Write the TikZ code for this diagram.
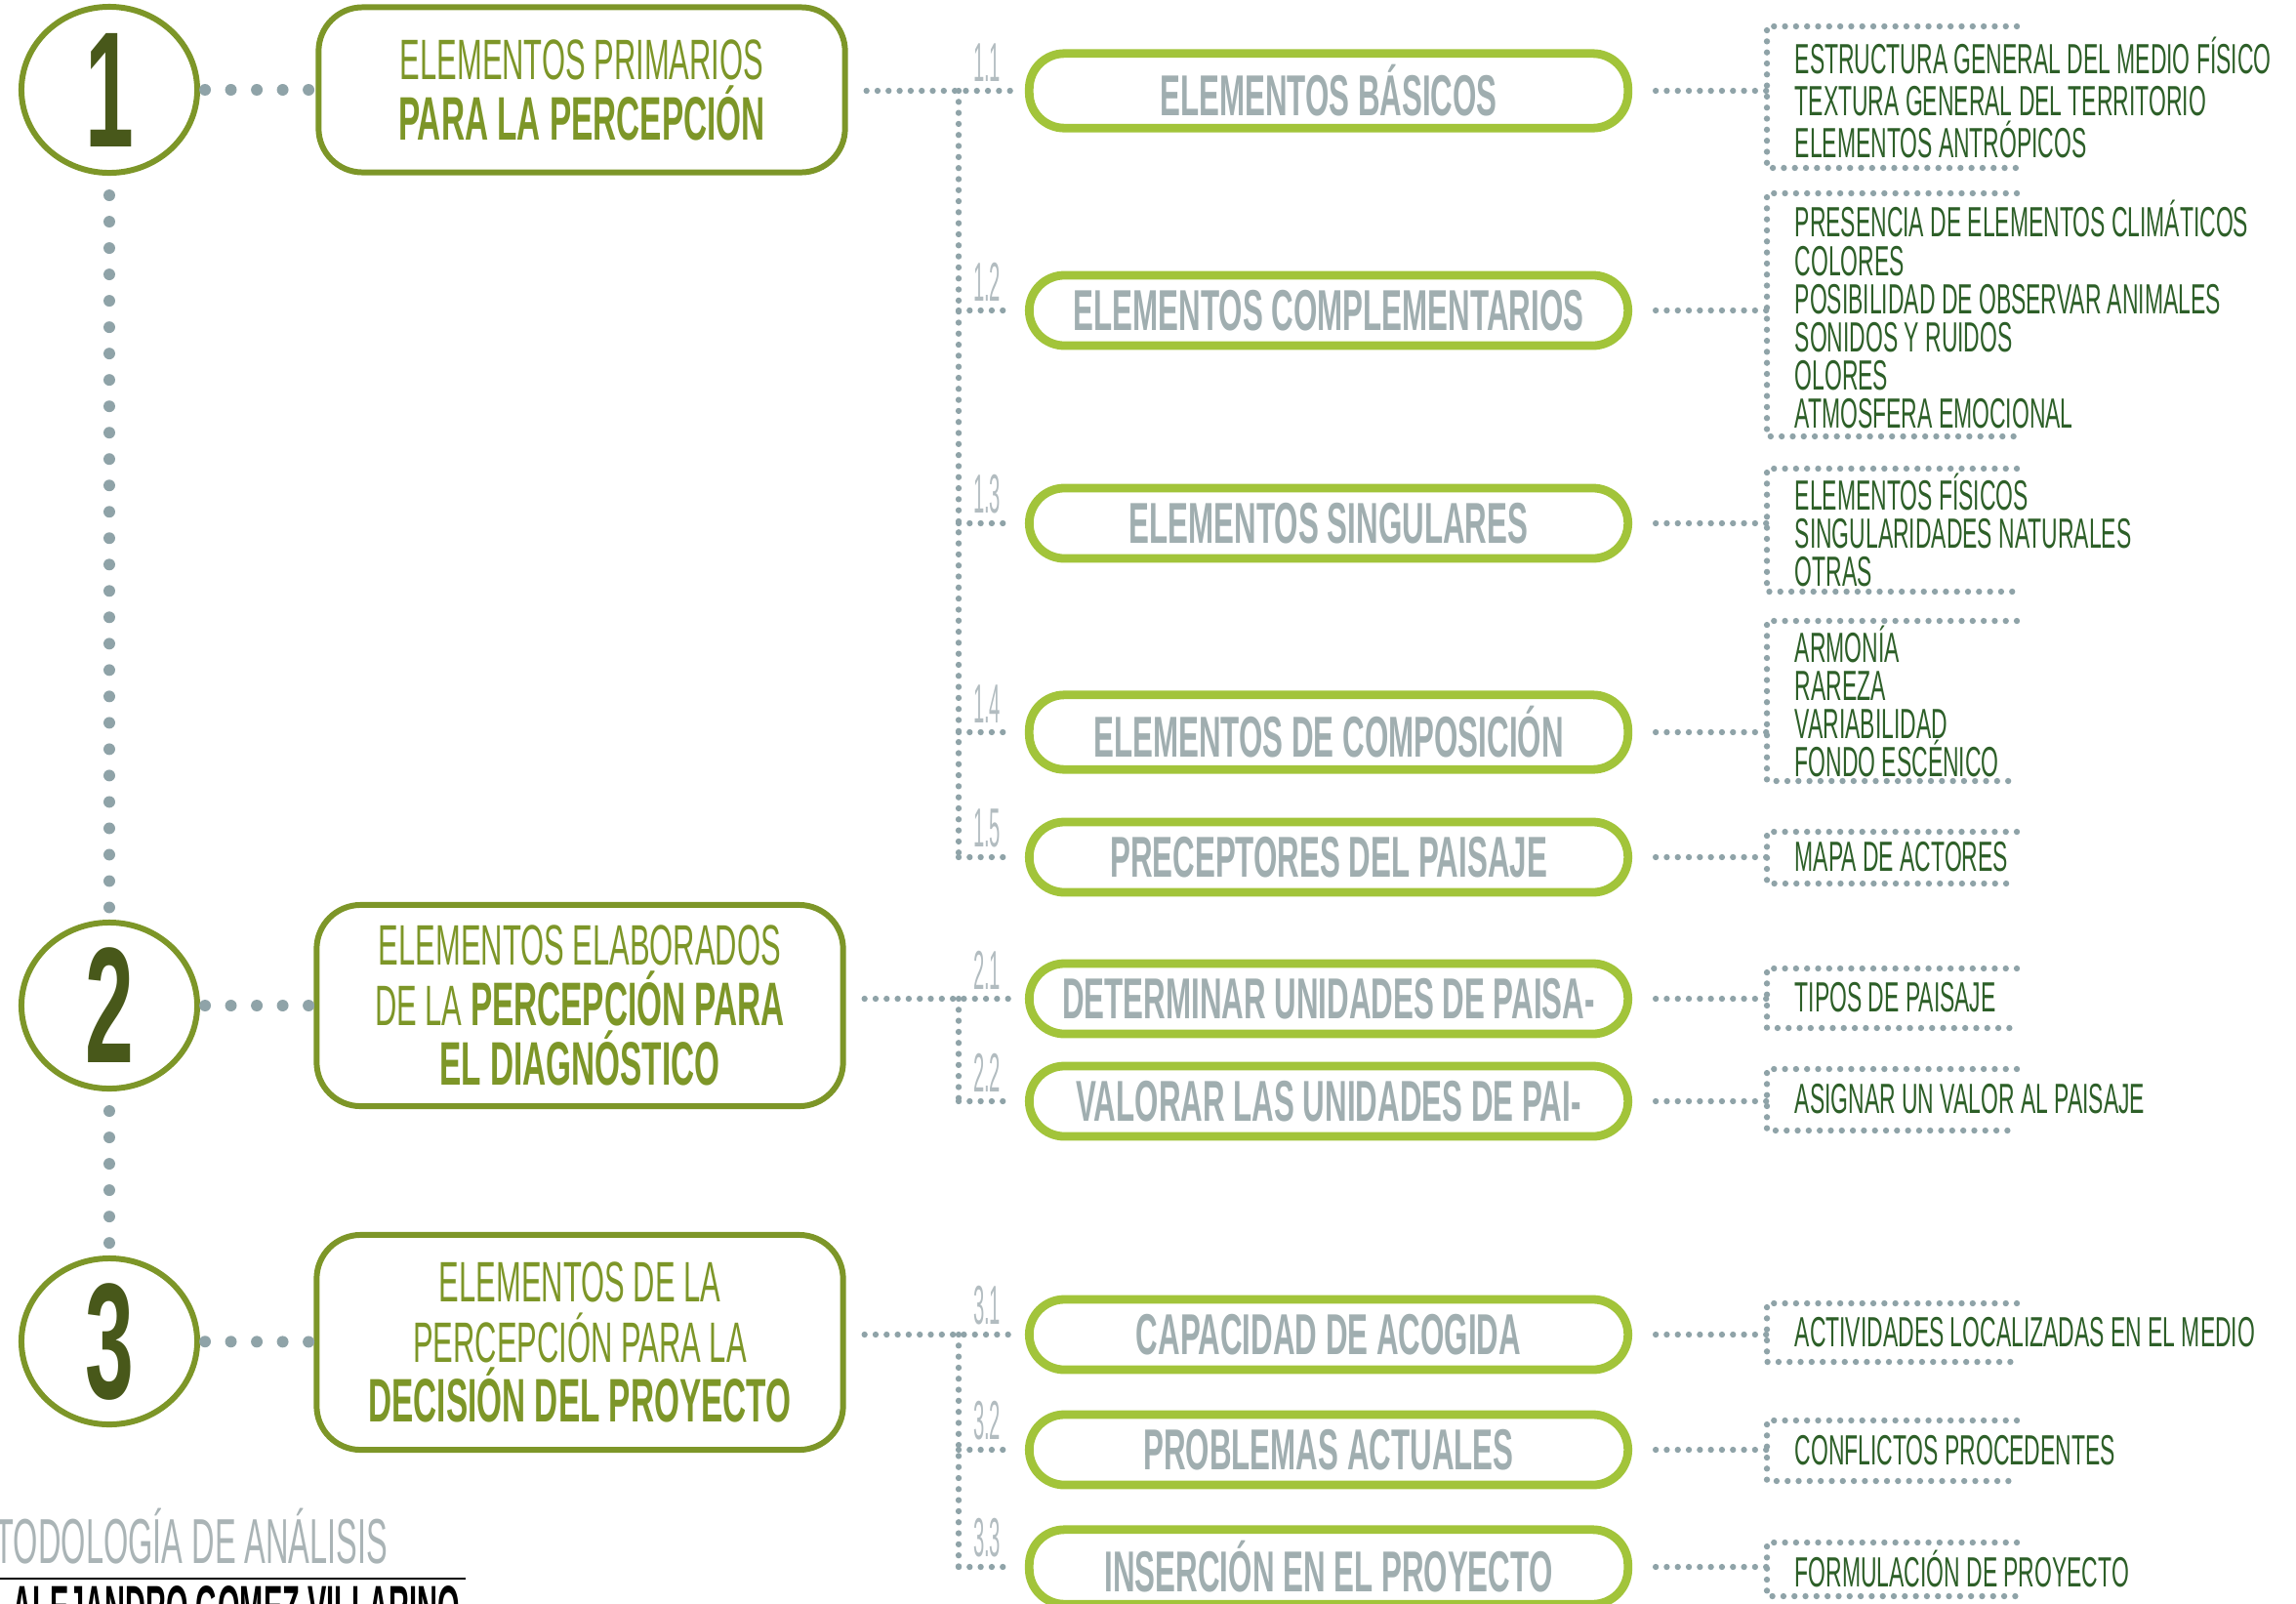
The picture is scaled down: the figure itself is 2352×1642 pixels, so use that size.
\documentclass[tikz,border=0pt]{standalone}
\usepackage{fontspec}
\usepackage{tikz}
\usetikzlibrary{shapes.geometric}

\newfontfamily\agency{Liberation Sans}[FakeStretch=0.53]
\newfontfamily\agencylist{Liberation Sans}[FakeStretch=0.5]
\newfontfamily\agencythin{Liberation Sans}[FakeStretch=0.36]
\newfontfamily\agencyname{Liberation Sans}[FakeStretch=0.46]
\newcommand\boldpart[1]{{\bfseries\fontsize{17.9}{17.6}\selectfont #1}}

\definecolor{boxgreen}{RGB}{125,150,40}
\definecolor{numgreen}{RGB}{72,88,26}
\definecolor{pillgreen}{RGB}{162,196,58}
\definecolor{pillgray}{RGB}{160,174,176}
\definecolor{dotgray}{RGB}{143,163,168}
\definecolor{listgreen}{RGB}{45,95,40}
\definecolor{labelgray}{RGB}{178,188,192}
\definecolor{footgray}{RGB}{170,180,182}

\begin{document}
\begin{tikzpicture}[x=0.01cm, y=-0.01cm,
    bigdots/.style={dotgray, line width=3.4pt, line cap=round, dash pattern=on 0pt off 0.27cm},
    smalldots/.style={dotgray, line width=1.8pt, line cap=round, dash pattern=on 0pt off 0.113cm},
    numcirc/.style={ellipse, draw=boxgreen, line width=1.7pt, minimum width=1.8cm, minimum height=1.7cm, inner sep=0pt, text=numgreen, font=\agency\bfseries\fontsize{48}{48}\selectfont},
    stagebox/.style={draw=boxgreen, line width=1.7pt, rounded corners=0.45cm, minimum width=5.39cm, align=center, text=boxgreen, font=\agency\fontsize{16.6}{17.6}\selectfont},
    pill/.style={draw=pillgreen, line width=2.5pt, rounded corners=0.36cm, minimum width=6.13cm, minimum height=0.72cm, text=pillgray, font=\agency\bfseries\fontsize{16.8}{18}\selectfont},
    sublabel/.style={anchor=south east, inner sep=0pt, text=labelgray, font=\agencythin\fontsize{16}{16}\selectfont},
    itemlist/.style={anchor=west, align=left, inner sep=0pt, text=listgreen, font=\agency\fontsize{12.3}{11.1}\selectfont}
]
\useasboundingbox (0,0) rectangle (2352,1642);

\node[numcirc] (n1) at (112,92) {1};
\node[numcirc] (n2) at (112,1030) {2};
\node[numcirc] (n3) at (112,1374) {3};

\node[stagebox, minimum height=1.69cm] (s1) at (596,92) {ELEMENTOS PRIMARIOS\\\boldpart{PARA LA PERCEPCIÓN}};
\node[stagebox, minimum height=2.06cm] (s2) at (594,1030) {ELEMENTOS ELABORADOS\\DE LA \boldpart{PERCEPCIÓN PARA}\\\boldpart{EL DIAGNÓSTICO}};
\node[stagebox, minimum height=2.2cm] (s3) at (594,1375) {ELEMENTOS DE LA\\PERCEPCIÓN PARA LA\\\boldpart{DECISIÓN DEL PROYECTO}};

\draw[bigdots, shorten <=0.2cm, shorten >=0.1cm] (n1) -- (n2);
\draw[bigdots, shorten <=0.2cm, shorten >=0.1cm] (n2) -- (n3);
\foreach \i in {1,2,3}
  \draw[bigdots, dash pattern=on 0pt off 0.265cm, shorten <=0.05cm, shorten >=0.04cm] (n\i) -- (s\i);

\foreach \id/\y/\txt in {11/93/ELEMENTOS BÁSICOS, 12/318/ELEMENTOS COMPLEMENTARIOS,
    13/536/ELEMENTOS SINGULARES, 14/750/ELEMENTOS DE COMPOSICIÓN,
    15/878/PRECEPTORES DEL PAISAJE, 21/1023/DETERMINAR UNIDADES DE PAISA-,
    22/1128/VALORAR LAS UNIDADES DE PAI-, 31/1367/CAPACIDAD DE ACOGIDA,
    32/1485/PROBLEMAS ACTUALES, 33/1605/INSERCIÓN EN EL PROYECTO}
  \node[pill] (p\id) at (1361,\y) {\txt};

\foreach \id/\lab in {11/1.1, 12/1.2, 13/1.3, 14/1.4, 15/1.5, 21/2.1, 22/2.2, 31/3.1, 32/3.2, 33/3.3}
  \node[sublabel] (l\id) at ([shift={(-24,-9)}]p\id.west) {\lab};

\coordinate (t1) at (982,93);
\coordinate (t2) at (982,1023);
\coordinate (t3) at (982,1367);
\foreach \i/\first/\last in {1/11/15, 2/21/22, 3/31/33} {
  \draw[smalldots, shorten <=0.19cm, shorten >=0.13cm] (s\i.east |- p\first) -- (p\first);
  \draw[smalldots] (t\i) -- (t\i |- p\last);
}
\foreach \id/\i in {12/1, 13/1, 14/1, 15/1, 22/2, 32/3, 33/3}
  \draw[smalldots, shorten >=0.2cm] (t\i |- p\id) -- (p\id.west);

\foreach \id/\top/\bot in {11/27/172, 12/198/447, 13/480/606, 14/636/800, 15/852/905,
    21/992/1053, 22/1095/1158, 31/1335/1395, 32/1455/1517, 33/1580/1635} {
  \coordinate (b\id) at (1810,\top);
  \draw[smalldots] (2066,\top) -- (b\id) -- (1810,\bot) -- (2066,\bot);
  \draw[smalldots, shorten <=0.24cm] (p\id) -- (p\id -| b\id);
}

\node[itemlist, font=\agency\fontsize{12.3}{12.2}\selectfont] (i11) at (1838,100) {ESTRUCTURA GENERAL DEL MEDIO FÍSICO\\TEXTURA GENERAL DEL TERRITORIO\\ELEMENTOS ANTRÓPICOS};
\node[itemlist] (i12) at (1838,322) {PRESENCIA DE ELEMENTOS CLIMÁTICOS\\COLORES\\POSIBILIDAD DE OBSERVAR ANIMALES\\SONIDOS Y RUIDOS\\OLORES\\ATMOSFERA EMOCIONAL};
\node[itemlist] (i13) at (1838,543) {ELEMENTOS FÍSICOS\\SINGULARIDADES NATURALES\\OTRAS};
\node[itemlist] (i14) at (1838,718) {ARMONÍA\\RAREZA\\VARIABILIDAD\\FONDO ESCÉNICO};
\node[itemlist] (i15) at (1838,878) {MAPA DE ACTORES};
\node[itemlist] (i21) at (1838,1022) {TIPOS DE PAISAJE};
\node[itemlist] (i22) at (1838,1126) {ASIGNAR UN VALOR AL PAISAJE};
\node[itemlist] (i31) at (1838,1365) {ACTIVIDADES LOCALIZADAS EN EL MEDIO};
\node[itemlist] (i32) at (1838,1486) {CONFLICTOS PROCEDENTES};
\node[itemlist] (i33) at (1838,1607) {FORMULACIÓN DE PROYECTO};

\node[anchor=west, inner sep=0pt, text=footgray, font=\agencylist\fontsize{18.5}{18}\selectfont] (ft) at (-6,1574) {TODOLOGÍA DE ANÁLISIS};
\draw[line width=0.8pt] (0,1617) -- (477,1617);
\node[anchor=north west, inner sep=0pt, font=\agencyname\bfseries\fontsize{17.9}{18}\selectfont] (au) at (12,1624) {ALEJANDRO GOMEZ VILLARINO};
\end{tikzpicture}
\end{document}
